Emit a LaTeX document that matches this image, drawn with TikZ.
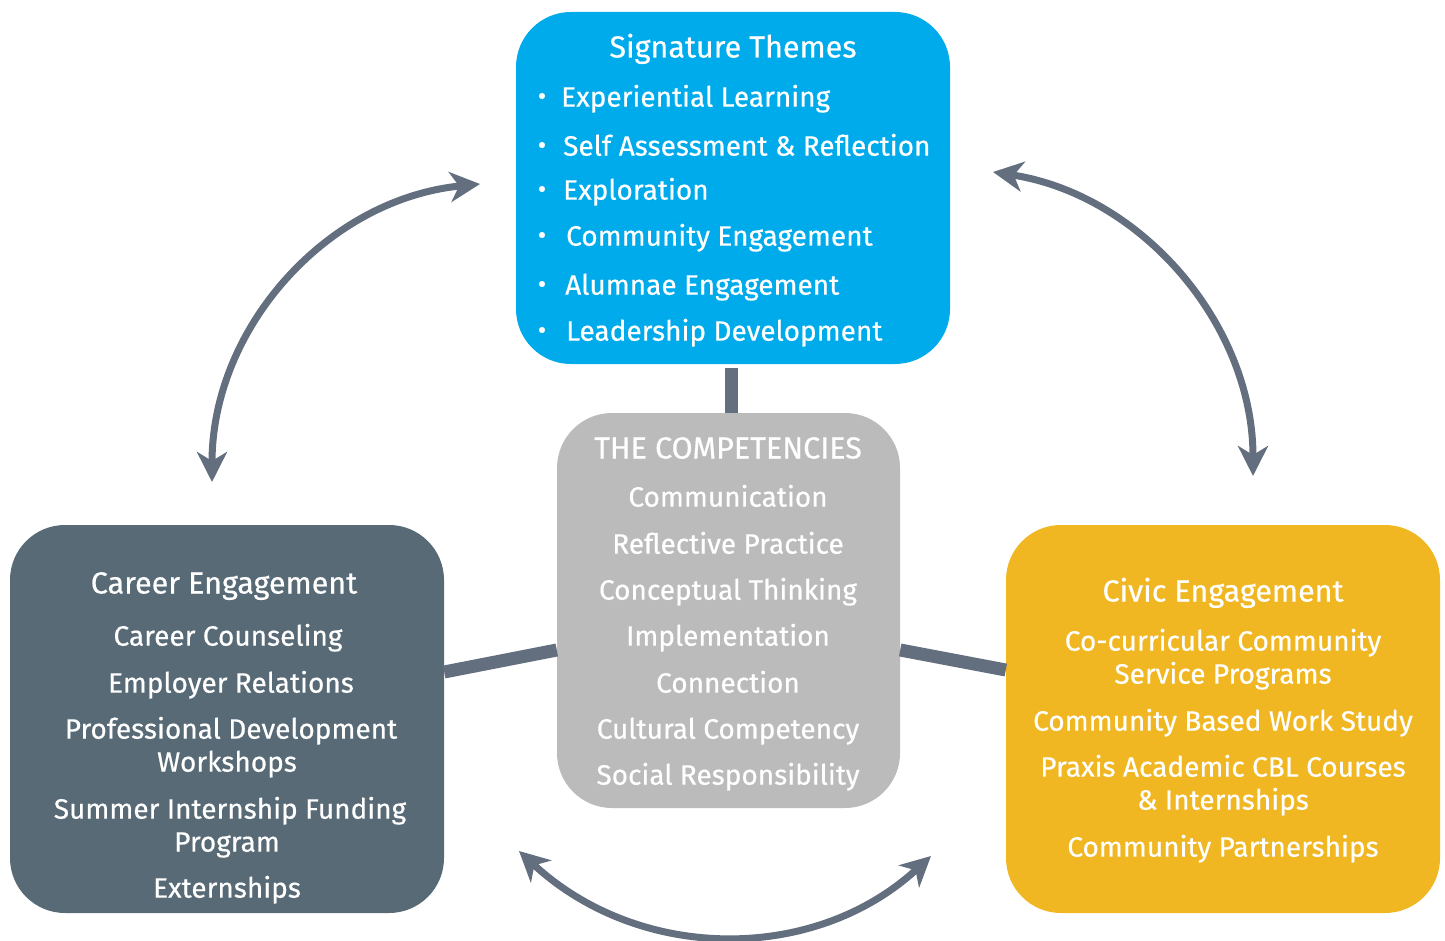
\documentclass[tikz,border=0pt]{standalone}
\usepackage{fontspec}
\setmainfont{Fira Sans}[UprightFeatures={FakeBold=0.5}]
\usetikzlibrary{arrows.meta}
\definecolor{stblue}{RGB}{0,171,235}
\definecolor{stgrey}{RGB}{187,187,187}
\definecolor{stslate}{RGB}{87,106,118}
\definecolor{styellow}{RGB}{240,183,35}
\definecolor{arrowgray}{RGB}{99,110,126}
\begin{document}
\begin{tikzpicture}[x=1pt,y=-1pt,
  box/.style={rounded corners=55pt, inner sep=0pt, draw=none},
  lbl/.style={text=white, inner sep=0pt, text height=19.3pt, text depth=0pt, font=\fontsize{28}{32}\selectfont},
  ttl/.style={text=white, inner sep=0pt, text height=21pt, text depth=0pt, font=\fontsize{30.5}{34}\selectfont},
  bul/.style={text=white, inner sep=0pt, font=\fontsize{26}{26}\selectfont},
  link/.style={draw=arrowgray, line width=13pt},
  dbl/.style={draw=arrowgray, line width=7pt,
    {Stealth[length=30pt,width=30pt,inset=9pt]}-{Stealth[length=30pt,width=30pt,inset=9pt]}}]
\useasboundingbox (0,0) rectangle (1445,941);

% boxes
\node[box, fill=stblue, minimum width=434pt, minimum height=352pt] (top) at (733,188) {};
\node[box, fill=stgrey, minimum width=343pt, minimum height=395pt] (comp) at (728.5,610.5) {};
\node[box, fill=stslate, minimum width=434pt, minimum height=388pt] (left) at (227,719) {};
\node[box, fill=styellow, minimum width=434pt, minimum height=388pt] (right) at (1223,719) {};

% connectors
\coordinate (vx) at (731,0);
\draw[link] ([yshift=-4pt]top.south -| vx) -- (comp.north -| vx);
\draw[link] ([yshift=47pt]left.east) -- ([yshift=-39.5pt]comp.west);
\draw[link] ([yshift=-39.5pt]comp.east) -- ([yshift=49pt]right.west);

% curved double arrows
\coordinate (la) at (212,482);
\coordinate (lb) at (480,184);
\coordinate (ra) at (993,172);
\coordinate (rb) at (1253,476);
\coordinate (ba) at (519,851);
\coordinate (bb) at (931,856);
\draw[dbl] (la) .. controls (212,327) and (328,199) .. (lb);
\draw[dbl] (ra) .. controls (1142,195) and (1253,325) .. (rb);
\draw[dbl] (ba) .. controls (640,963) and (815,963) .. (bb);

% top box text
\node[ttl] (t0) at (733,47) {Signature Themes};
\node[bul] (b1) at (542,99) {•};
\node[bul] (b2) at (542,148) {•};
\node[bul] (b3) at (542,192) {•};
\node[bul] (b4) at (542,238) {•};
\node[bul] (b5) at (542,287) {•};
\node[bul] (b6) at (542,333) {•};
\node[lbl, anchor=west] (t1) at (561,97) {Experiential Learning};
\node[lbl, anchor=west] (t2) at (563,146) {Self Assessment \& Reflection};
\node[lbl, anchor=west] (t3) at (563,190) {Exploration};
\node[lbl, anchor=west] (t4) at (566,236) {Community Engagement};
\node[lbl, anchor=west] (t5) at (565,285) {Alumnae Engagement};
\node[lbl, anchor=west] (t6) at (566,331) {Leadership Development};

% competencies text
\node[ttl] (c0) at (728,448) {THE COMPETENCIES};
\node[lbl] (c1) at (728,497) {Communication};
\node[lbl] (c2) at (728,544) {Reflective Practice};
\node[lbl] (c3) at (728,590) {Conceptual Thinking};
\node[lbl] (c4) at (728,636) {Implementation};
\node[lbl] (c5) at (728,683) {Connection};
\node[lbl] (c6) at (728,729) {Cultural Competency};
\node[lbl] (c7) at (728,775) {Social Responsibility};

% career text
\node[ttl] (l0) at (224,583) {Career Engagement};
\node[lbl] (l1) at (228,636) {Career Counseling};
\node[lbl] (l2) at (231,683) {Employer Relations};
\node[lbl] (l3) at (231,729) {Professional Development};
\node[lbl] (l4) at (227,762) {Workshops};
\node[lbl] (l5) at (230,809) {Summer Internship Funding};
\node[lbl] (l6) at (227,842) {Program};
\node[lbl] (l7) at (227,888) {Externships};

% civic text
\node[ttl] (r0) at (1223,591) {Civic Engagement};
\node[lbl] (r1) at (1223,641) {Co-curricular Community};
\node[lbl] (r2) at (1223,674) {Service Programs};
\node[lbl] (r3) at (1223,721) {Community Based Work Study};
\node[lbl] (r4) at (1223,767) {Praxis Academic CBL Courses};
\node[lbl] (r5) at (1223,800) {\& Internships};
\node[lbl] (r6) at (1223,847) {Community Partnerships};
\end{tikzpicture}
\end{document}
